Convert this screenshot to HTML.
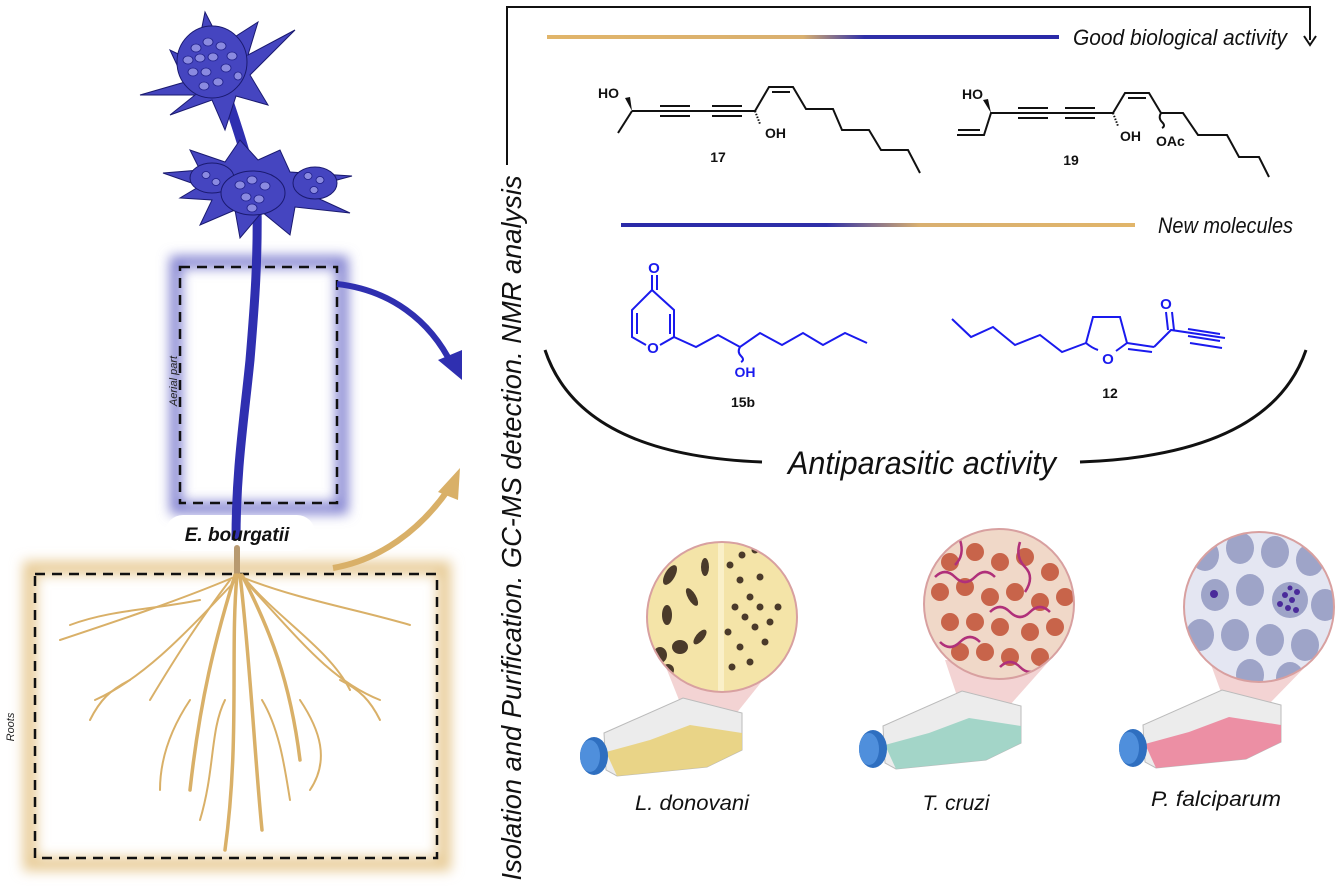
<!DOCTYPE html>
<html><head><meta charset="utf-8"><style>
html,body{margin:0;padding:0;background:#fff}
svg{display:block}
text{font-family:"Liberation Sans",sans-serif}
</style></head><body>
<svg width="1336" height="886" viewBox="0 0 1336 886" xmlns="http://www.w3.org/2000/svg">
<defs>
<linearGradient id="g1" x1="0" x2="1"><stop offset="0" stop-color="#e1b56a"/><stop offset="0.5" stop-color="#d9b070"/><stop offset="0.62" stop-color="#2e2fa8"/><stop offset="1" stop-color="#2a2aa8"/></linearGradient>
<linearGradient id="g2" x1="0" x2="1"><stop offset="0" stop-color="#2a2aa8"/><stop offset="0.4" stop-color="#2e2fa8"/><stop offset="0.58" stop-color="#d9b070"/><stop offset="1" stop-color="#e1b56a"/></linearGradient>
<filter id="bl" x="-20%" y="-20%" width="140%" height="140%"><feGaussianBlur stdDeviation="6"/></filter>
<clipPath id="c1"><circle cx="722" cy="617" r="75"/></clipPath>
<clipPath id="c2"><circle cx="999" cy="604" r="75"/></clipPath>
<clipPath id="c3"><circle cx="1259" cy="607" r="75"/></clipPath>
</defs>

<rect x="176" y="262" width="166" height="246" fill="none" stroke="#8080d0" stroke-width="12" filter="url(#bl)"/>
<rect x="30" y="568" width="414" height="296" fill="none" stroke="#e8cc98" stroke-width="14" filter="url(#bl)"/>
<rect x="165" y="515" width="150" height="36" rx="18" fill="#fff"/>
<rect x="180" y="267" width="157" height="236" fill="none" stroke="#111" stroke-width="2.5" stroke-dasharray="10,7"/>
<rect x="35" y="574" width="402" height="284" fill="none" stroke="#111" stroke-width="2.5" stroke-dasharray="10,7"/>

<path d="M257 200 C258 260 255 300 250 360 C244 420 236 470 236 540" stroke="#2f2fb0" stroke-width="9" fill="none"/>
<path d="M228 100 C238 130 248 160 254 190" stroke="#2f2fb0" stroke-width="10" fill="none"/>
<g fill="#4545c0" stroke="#1a1a70" stroke-width="1">
<path d="M140 95 L185 82 L170 50 L195 62 L205 12 L222 45 L258 22 L248 55 L295 30 L250 75 L268 105 L236 96 L225 130 L212 100 L170 115 L195 95 Z"/>
<ellipse cx="212" cy="62" rx="35" ry="36"/>
<path d="M163 173 L200 170 L190 150 L225 162 L240 140 L258 160 L280 150 L290 172 L352 176 L300 190 L350 213 L295 207 L290 235 L262 212 L240 238 L235 210 L200 225 L212 200 L180 198 L200 186 Z"/>
<ellipse cx="212" cy="178" rx="22" ry="15"/>
<ellipse cx="253" cy="193" rx="32" ry="22"/>
<ellipse cx="315" cy="183" rx="22" ry="16"/>
</g>
<g fill="#8a8ae0" stroke="#20208a" stroke-width="0.8">
<ellipse cx="196" cy="48" rx="5" ry="4"/><ellipse cx="208" cy="42" rx="5" ry="4"/><ellipse cx="221" cy="46" rx="5" ry="4"/><ellipse cx="232" cy="56" rx="5" ry="4"/><ellipse cx="188" cy="60" rx="5" ry="4"/><ellipse cx="200" cy="58" rx="5" ry="4"/><ellipse cx="213" cy="57" rx="5" ry="4"/><ellipse cx="226" cy="68" rx="5" ry="4"/><ellipse cx="193" cy="72" rx="5" ry="4"/><ellipse cx="206" cy="72" rx="5" ry="4"/><ellipse cx="218" cy="82" rx="5" ry="4"/><ellipse cx="204" cy="86" rx="5" ry="4"/><ellipse cx="238" cy="76" rx="4" ry="4"/>
<ellipse cx="240" cy="185" rx="5" ry="4"/><ellipse cx="252" cy="180" rx="5" ry="4"/><ellipse cx="265" cy="186" rx="5" ry="4"/><ellipse cx="246" cy="197" rx="5" ry="4"/><ellipse cx="259" cy="199" rx="5" ry="4"/><ellipse cx="252" cy="208" rx="5" ry="4"/><ellipse cx="308" cy="176" rx="4" ry="3.5"/><ellipse cx="320" cy="180" rx="4" ry="3.5"/><ellipse cx="314" cy="190" rx="4" ry="3.5"/><ellipse cx="206" cy="175" rx="4" ry="3.5"/><ellipse cx="216" cy="182" rx="4" ry="3.5"/>
</g>
<text x="237" y="541" font-size="19" font-weight="bold" font-style="italic" text-anchor="middle" fill="#111">E. bourgatii</text>
<text transform="translate(177,381) rotate(-90)" font-size="11" font-style="italic" text-anchor="middle" fill="#222">Aerial part</text>
<text transform="translate(14,727) rotate(-90)" font-size="11" font-style="italic" text-anchor="middle" fill="#222">Roots</text>

<g fill="none" stroke="#d9b068" stroke-linecap="round">
<path d="M237 548 L237 575" stroke="#b89a70" stroke-width="6"/>
<g stroke-width="3.5">
<path d="M237 575 C230 650 240 740 225 850"/>
<path d="M240 575 C250 660 255 760 262 830"/>
<path d="M235 575 C215 640 200 700 190 790"/>
<path d="M242 575 C270 630 290 680 300 760"/>
</g>
<g stroke-width="2">
<path d="M232 578 C180 600 120 620 60 640"/>
<path d="M244 578 C300 600 360 610 410 625"/>
<path d="M236 580 C180 640 140 680 95 700"/>
<path d="M244 580 C300 640 330 680 380 700"/>
<path d="M230 580 C200 620 180 650 150 700"/>
<path d="M246 580 C280 620 330 650 350 690"/>
<path d="M200 600 C150 610 110 610 70 625"/>
<path d="M190 700 C170 730 160 760 160 790"/>
<path d="M300 700 C320 730 330 760 310 790"/>
<path d="M262 700 C280 730 285 770 290 800"/>
<path d="M225 700 C210 730 215 770 200 820"/>
<path d="M130 680 C110 690 100 700 90 720"/>
<path d="M340 680 C360 690 370 700 380 720"/>
</g>
</g>

<path d="M337 284 C390 290 430 320 452 365" stroke="#2f2fb0" stroke-width="6" fill="none"/>
<path d="M438 360 L462 380 L462 350 Z" fill="#2f2fb0"/>
<path d="M333 568 C380 560 420 530 448 490" stroke="#d9b068" stroke-width="6" fill="none"/>
<path d="M438 492 L460 468 L458 500 Z" fill="#d9b068"/>

<text transform="translate(521,528) rotate(-90)" font-size="28" font-style="italic" text-anchor="middle" fill="#111" textLength="705" lengthAdjust="spacingAndGlyphs">Isolation and Purification. GC-MS detection. NMR analysis</text>
<path d="M507 165 L507 7 L1310 7 L1310 40" stroke="#111" stroke-width="2" fill="none"/>
<path d="M1304 36 L1310 45 L1316 36" stroke="#111" stroke-width="2" fill="none"/>

<rect x="547" y="35" width="512" height="4" fill="url(#g1)"/>
<text x="1073" y="45" font-size="22" font-style="italic" fill="#111" textLength="214" lengthAdjust="spacingAndGlyphs">Good biological activity</text>
<rect x="621" y="223" width="514" height="4" fill="url(#g2)"/>
<text x="1158" y="233" font-size="22" font-style="italic" fill="#111" textLength="135" lengthAdjust="spacingAndGlyphs">New molecules</text>

<g stroke="#111" stroke-width="2" fill="none">
<path d="M618 133 L632 111"/>
<path d="M632 111 L755 111"/><path d="M660 106 L690 106 M660 116 L690 116 M712 106 L742 106 M712 116 L742 116"/>
<path d="M755 111 L769 87 L793 87 L806 109 L833 109 L842 130 L869 130 L881 150 L908 150 L920 173"/>
<path d="M772 92 L790 92"/>
</g>
<path d="M632 111 L625 98 L630 97 Z" fill="#111"/>
<path d="M755 111 L760 124" stroke="#111" stroke-width="2" stroke-dasharray="1.5,1.5"/>
<text x="598" y="98" font-size="14" font-weight="bold" fill="#111">HO</text>
<text x="765" y="138" font-size="14" font-weight="bold" fill="#111">OH</text>
<text x="718" y="162" font-size="14" font-weight="bold" text-anchor="middle" fill="#111">17</text>

<g stroke="#111" stroke-width="2" fill="none">
<path d="M957 135 L984 135 L991 113 L1113 113 L1125 93 L1149 93 L1161 113 L1183 113 L1198 135 L1227 135 L1239 157 L1259 157 L1269 177"/>
<path d="M958 130 L980 130"/>
<path d="M1018 108 L1048 108 M1018 118 L1048 118 M1065 108 L1095 108 M1065 118 L1095 118"/>
<path d="M1128 98 L1146 98"/>
<path d="M1161 113 Q1158 118 1162 122 Q1166 126 1162 128"/>
</g>
<path d="M991 113 L983 100 L988 99 Z" fill="#111"/>
<path d="M1113 113 L1118 126" stroke="#111" stroke-width="2" stroke-dasharray="1.5,1.5"/>
<text x="962" y="99" font-size="14" font-weight="bold" fill="#111">HO</text>
<text x="1120" y="141" font-size="14" font-weight="bold" fill="#111">OH</text>
<text x="1156" y="146" font-size="14" font-weight="bold" fill="#111">OAc</text>
<text x="1071" y="165" font-size="14" font-weight="bold" text-anchor="middle" fill="#111">19</text>

<g stroke="#1a1aee" stroke-width="2" fill="none">
<path d="M652 275 L652 290 M657 275 L657 290"/>
<path d="M652 290 L674 310 L674 337 L660 345 M646 345 L632 337 L632 310 L652 290"/>
<path d="M637 313 L637 334 M670 314 L670 334"/>
<path d="M674 337 L696 347 L718 335 L740 347 L760 333 L782 345 L803 333 L823 345 L845 333 L867 343"/>
<path d="M740 347 Q737 352 741 356 Q745 360 741 362"/>
</g>
<text x="654" y="273" font-size="15" font-weight="bold" text-anchor="middle" fill="#1a1aee">O</text>
<text x="653" y="353" font-size="15" font-weight="bold" text-anchor="middle" fill="#1a1aee">O</text>
<text x="745" y="377" font-size="14" font-weight="bold" text-anchor="middle" fill="#1a1aee">OH</text>
<text x="743" y="407" font-size="14" font-weight="bold" text-anchor="middle" fill="#111">15b</text>

<g stroke="#1a1aee" stroke-width="2" fill="none">
<path d="M952 319 L971 337 L993 327 L1015 345 L1040 335 L1062 352 L1086 343"/>
<path d="M1086 343 Q1092 348 1098 350"/>
<path d="M1116 351 L1127 343 L1120 317 L1093 317 L1086 343"/>
<path d="M1127 343 L1154 347 M1128 349 L1152 352"/>
<path d="M1154 347 L1171 330 L1225 338"/>
<path d="M1166 312 L1168 330 M1172 312 L1174 330"/>
<path d="M1188 329 L1220 334 M1188 336 L1220 341 M1190 343 L1222 348"/>
</g>
<text x="1166" y="309" font-size="15" font-weight="bold" text-anchor="middle" fill="#1a1aee">O</text>
<text x="1108" y="364" font-size="15" font-weight="bold" text-anchor="middle" fill="#1a1aee">O</text>
<text x="1110" y="398" font-size="14" font-weight="bold" text-anchor="middle" fill="#111">12</text>

<path d="M545 350 Q580 455 762 462" stroke="#111" stroke-width="3" fill="none"/>
<path d="M1080 462 Q1270 455 1306 350" stroke="#111" stroke-width="3" fill="none"/>
<text x="922" y="474" font-size="32" font-style="italic" text-anchor="middle" fill="#111" textLength="268" lengthAdjust="spacingAndGlyphs">Antiparasitic activity</text>

<!-- micrograph 1 -->
<path d="M665 665 L685 715 L735 715 L775 665 Z" fill="#f0c8c8" opacity="0.8"/>
<g clip-path="url(#c1)">
<rect x="640" y="535" width="165" height="165" fill="#f4e4a8"/>
<rect x="718" y="535" width="6" height="165" fill="#faf0c8"/>
<g fill="#4a3a2a">
<ellipse cx="670" cy="575" rx="5" ry="11" transform="rotate(30 670 575)"/><ellipse cx="692" cy="597" rx="4" ry="10" transform="rotate(-30 692 597)"/><ellipse cx="667" cy="615" rx="5" ry="10"/><ellipse cx="680" cy="647" rx="8" ry="7"/><ellipse cx="660" cy="655" rx="7" ry="8"/><ellipse cx="700" cy="637" rx="4" ry="9" transform="rotate(40 700 637)"/><ellipse cx="705" cy="567" rx="4" ry="9"/><ellipse cx="668" cy="670" rx="6" ry="6"/>
<circle cx="730" cy="565" r="3.5"/><circle cx="740" cy="580" r="3.5"/><circle cx="750" cy="597" r="3.5"/><circle cx="760" cy="607" r="3.5"/><circle cx="745" cy="617" r="3.5"/><circle cx="755" cy="627" r="3.5"/><circle cx="765" cy="642" r="3.5"/><circle cx="740" cy="647" r="3.5"/><circle cx="750" cy="662" r="3.5"/><circle cx="735" cy="607" r="3.5"/><circle cx="770" cy="622" r="3.5"/><circle cx="728" cy="632" r="3.5"/><circle cx="760" cy="577" r="3.5"/><circle cx="732" cy="667" r="3.5"/><circle cx="778" cy="607" r="3.5"/><circle cx="742" cy="555" r="3.5"/><circle cx="755" cy="550" r="3.5"/>
</g></g>
<circle cx="722" cy="617" r="75" fill="none" stroke="#d8a0a0" stroke-width="2"/>
<!-- micrograph 2 -->
<path d="M945 660 L960 705 L1010 705 L1050 660 Z" fill="#f0c8c8" opacity="0.8"/>
<g clip-path="url(#c2)">
<rect x="920" y="525" width="160" height="160" fill="#f0d8c8"/>
<g fill="#c8644a">
<circle cx="950" cy="562" r="9"/><circle cx="975" cy="552" r="9"/><circle cx="1000" cy="562" r="9"/><circle cx="1025" cy="557" r="9"/><circle cx="1050" cy="572" r="9"/><circle cx="940" cy="592" r="9"/><circle cx="965" cy="587" r="9"/><circle cx="990" cy="597" r="9"/><circle cx="1015" cy="592" r="9"/><circle cx="1040" cy="602" r="9"/><circle cx="1065" cy="597" r="9"/><circle cx="950" cy="622" r="9"/><circle cx="975" cy="622" r="9"/><circle cx="1000" cy="627" r="9"/><circle cx="1030" cy="632" r="9"/><circle cx="1055" cy="627" r="9"/><circle cx="960" cy="652" r="9"/><circle cx="985" cy="652" r="9"/><circle cx="1010" cy="657" r="9"/><circle cx="1040" cy="657" r="9"/>
</g>
<g fill="none" stroke="#b0307a" stroke-width="2.5">
<path d="M935 577 q10 -10 20 0 t20 0 t20 0"/><path d="M990 612 q10 -10 20 0 t20 0 t20 0"/><path d="M940 642 q10 10 20 0 t20 0"/><path d="M1020 542 q-5 15 5 25 t0 25"/><path d="M1000 667 q10 -10 20 0 t20 0"/><path d="M960 540 q5 15 -5 25"/>
</g></g>
<circle cx="999" cy="604" r="75" fill="none" stroke="#d8a0a0" stroke-width="2"/>
<!-- micrograph 3 -->
<path d="M1210 662 L1225 703 L1270 703 L1310 662 Z" fill="#f0c8c8" opacity="0.8"/>
<g clip-path="url(#c3)">
<rect x="1180" y="527" width="160" height="160" fill="#e4e6f2"/>
<g fill="#9ea4c8">
<ellipse cx="1205" cy="555" rx="14" ry="16"/><ellipse cx="1240" cy="548" rx="14" ry="16"/><ellipse cx="1275" cy="552" rx="14" ry="16"/><ellipse cx="1310" cy="560" rx="14" ry="16"/><ellipse cx="1215" cy="595" rx="14" ry="16"/><ellipse cx="1250" cy="590" rx="14" ry="16"/><ellipse cx="1290" cy="600" rx="18" ry="18"/><ellipse cx="1325" cy="605" rx="14" ry="16"/><ellipse cx="1200" cy="635" rx="14" ry="16"/><ellipse cx="1235" cy="635" rx="14" ry="16"/><ellipse cx="1270" cy="640" rx="14" ry="16"/><ellipse cx="1305" cy="645" rx="14" ry="16"/><ellipse cx="1250" cy="675" rx="14" ry="16"/><ellipse cx="1290" cy="678" rx="14" ry="16"/>
</g>
<circle cx="1214" cy="594" r="4" fill="#4a2a9a"/>
<g fill="#4a2a9a"><circle cx="1285" cy="595" r="3"/><circle cx="1292" cy="600" r="3"/><circle cx="1288" cy="608" r="3"/><circle cx="1297" cy="592" r="3"/><circle cx="1280" cy="604" r="3"/><circle cx="1296" cy="610" r="3"/><circle cx="1290" cy="588" r="2.5"/></g>
</g>
<circle cx="1259" cy="607" r="75" fill="none" stroke="#d8a0a0" stroke-width="2"/>

<!-- flasks -->
<g>
<path d="M604 733 L683 698 L742 713 L742 750 L707 767 L617 776 L606 770 Z" fill="#ececec" stroke="#bbb" stroke-width="1"/>
<path d="M606 752 L650 740 L690 725 L742 733 L742 750 L707 767 L617 776 Z" fill="#e9d27c" opacity="0.9"/>
<ellipse cx="594" cy="756" rx="14" ry="19" fill="#2f6fc0"/><ellipse cx="590" cy="756" rx="10" ry="16" fill="#4f8fdc"/>
</g>
<g transform="translate(279,-7)">
<path d="M604 733 L683 698 L742 713 L742 750 L707 767 L617 776 L606 770 Z" fill="#ececec" stroke="#bbb" stroke-width="1"/>
<path d="M606 752 L650 740 L690 725 L742 733 L742 750 L707 767 L617 776 Z" fill="#9fd4c6" opacity="0.95"/>
<ellipse cx="594" cy="756" rx="14" ry="19" fill="#2f6fc0"/><ellipse cx="590" cy="756" rx="10" ry="16" fill="#4f8fdc"/>
</g>
<g transform="translate(539,-8)">
<path d="M604 733 L683 698 L742 713 L742 750 L707 767 L617 776 L606 770 Z" fill="#ececec" stroke="#bbb" stroke-width="1"/>
<path d="M606 752 L650 740 L690 725 L742 733 L742 750 L707 767 L617 776 Z" fill="#ec8aa0" opacity="0.95"/>
<ellipse cx="594" cy="756" rx="14" ry="19" fill="#2f6fc0"/><ellipse cx="590" cy="756" rx="10" ry="16" fill="#4f8fdc"/>
</g>

<text x="692" y="810" font-size="21" font-style="italic" text-anchor="middle" fill="#111" textLength="114" lengthAdjust="spacingAndGlyphs">L. donovani</text>
<text x="956" y="810" font-size="21" font-style="italic" text-anchor="middle" fill="#111">T. cruzi</text>
<text x="1216" y="806" font-size="21" font-style="italic" text-anchor="middle" fill="#111" textLength="130" lengthAdjust="spacingAndGlyphs">P. falciparum</text>
</svg>
</body></html>
